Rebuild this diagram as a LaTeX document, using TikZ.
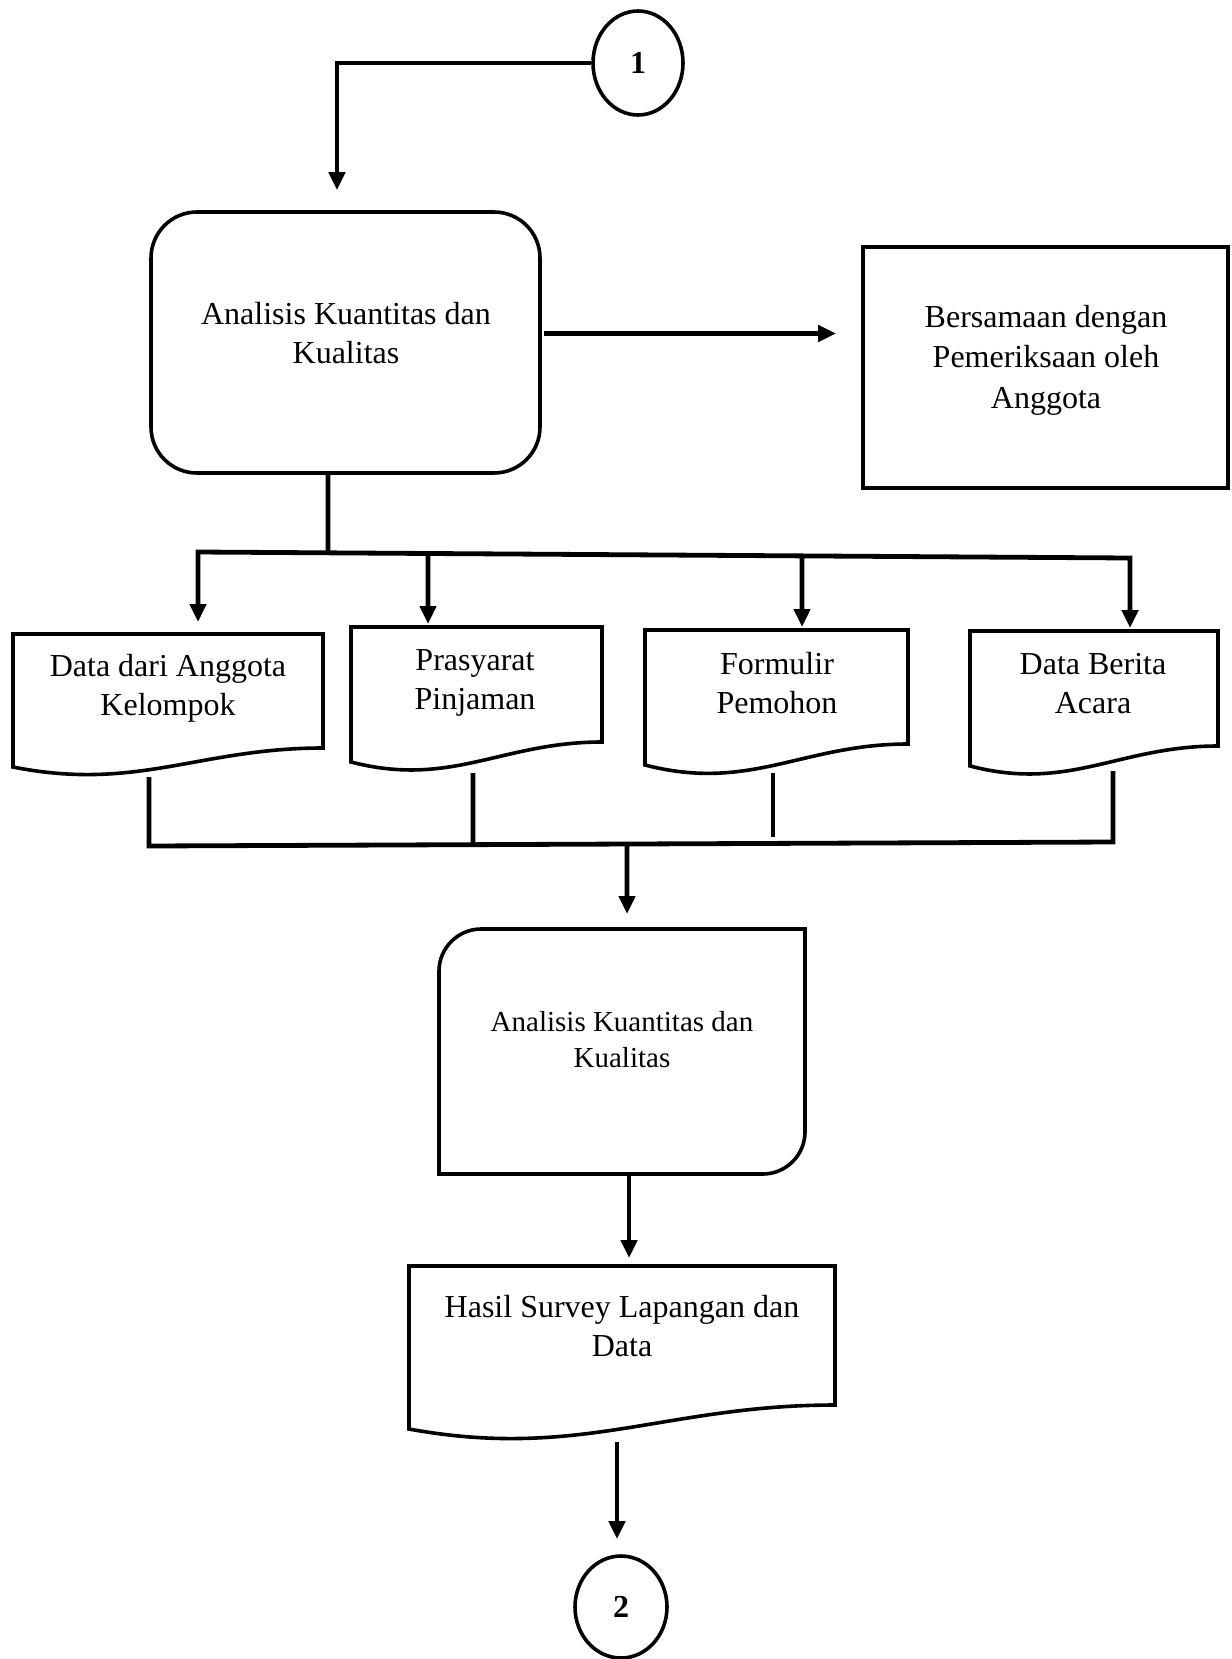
\documentclass[tikz,border=0pt]{standalone}
\usepackage{fontspec}
\setmainfont{Liberation Serif}
\usetikzlibrary{arrows.meta,shapes.geometric,calc}
\newcommand\docshp[6]{% name, xl, xr, ytop, yright, yleft
  \draw[box] (#2,#4) -- (#3,#4) -- (#3,#5) .. controls ({#3-0.4*(#3-#2)},#5) and ({#2+0.4*(#3-#2)},{#6+1.3*(#6-#5)}) .. (#2,#6) -- cycle;
  \coordinate (#1-n) at ({(#2+#3)/2},#4);
}
\begin{document}
\begin{tikzpicture}[x=0.5pt,y=-0.5pt,
  box/.style={line width=1.8pt, line join=miter},
  conn/.style={line width=2.4pt},
  tip/.tip={Triangle[width=8pt,length=9pt]},
  arr/.style={conn,-tip},
  txt/.style={align=center, font=\fontsize{16}{19.5}\selectfont},
  ghost/.style={inner sep=0pt, outer sep=0pt},
  conncirc/.style={ellipse, draw, box, inner sep=0pt, font=\bfseries\fontsize{16}{19}\selectfont},
  ]
\useasboundingbox (0,0) rectangle (1231,1659);

% connector circles
\node[conncirc, minimum width=45pt, minimum height=52pt] (c1) at (638,63) {1};
\node[conncirc, minimum width=46pt, minimum height=51pt] (c2) at (621,1607) {2};

% top process box
\node[draw, box, rounded corners=23pt, minimum width=194.5pt, minimum height=130.5pt] (b1) at (345.5,342.5) {};
\node[txt] (b1t) at (346,333) {Analisis Kuantitas dan\\Kualitas};

% right box
\node[draw, box, minimum width=182.5pt, minimum height=120.5pt] (b2) at (1045.5,367.5) {};
\node[txt, font=\fontsize{16}{20.3}\selectfont] (b2t) at (1046,360) {Bersamaan dengan\\Pemeriksaan oleh\\Anggota};

% documents
\docshp{d1}{13}{323}{634}{748}{767}
\docshp{d2}{351}{602}{627}{742}{762}
\docshp{d3}{645}{908}{630}{744}{765}
\docshp{d4}{970}{1218}{631}{746}{766}
\node[txt] (d1t) at (168,688) {Data dari Anggota\\Kelompok};
\node[txt] (d2t) at (475,683) {Prasyarat\\Pinjaman};
\node[txt] (d3t) at (777,683) {Formulir\\Pemohon};
\node[txt] (d4t) at (1093,684) {Data Berita\\Acara};

% middle box (rounded top-left and bottom-right)
\node[ghost, minimum width=183pt, minimum height=122.5pt] (b3) at (622,1051.5) {};
\draw[box] (b3.south west) -- ($(b3.north west)+(0,42)$) .. controls +(0,-23) and +(-23,0) .. ($(b3.north west)+(42,0)$)
  -- (b3.north east) -- ($(b3.south east)+(0,-42)$) .. controls +(0,23) and +(23,0) .. ($(b3.south east)+(-42,0)$) -- cycle;
\node[txt, font=\fontsize{14.5}{18}\selectfont] (b3t) at (622,1040) {Analisis Kuantitas dan\\Kualitas};

% bottom document
\docshp{d5}{409}{835}{1266}{1405}{1429}
\node[txt] (d5t) at (622,1326) {Hasil Survey Lapangan dan\\Data};

% connectors
\draw[arr] (c1.west) -| ($(b1.north)+(-8.5,-20)$);
\draw[arr] ($(b1.east)+(2,-9)$) -- ($(b2.west |- b1.east)+(-25,-9)$);

\coordinate (bL) at (198,552);
\coordinate (bR) at (1130,558);
\draw[conn] ($(b1.south)+(-17.5,0)$) -- ($(bL)!{(328-198)/932}!(bR)$);
\draw[conn, tip-tip] ($(d1-n)+(30,-12)$) -- (bL) -- (bR) -- ($(d4-n)+(36,-3)$);
\draw[arr] ($(bL)!{(428-198)/932}!(bR)$) -- ($(d2-n)+(-48.5,-3)$);
\draw[arr] ($(bL)!{(802-198)/932}!(bR)$) -- ($(d3-n)+(25.5,-3)$);

\coordinate (cL) at (149,846);
\coordinate (cR) at (1113,842);
\draw[conn] ($(d1-n)+(-19,143)$) -- (cL) -- (cR) -- ($(d4-n)+(19,140)$);
\draw[conn] ($(d2-n)+(-3.5,146)$) -- ($(cL)!{(473-149)/964}!(cR)$);
\draw[conn] ($(d3-n)+(-3.5,143)$) -- ++(0,64);
\draw[arr] ($(cL)!{(627-149)/964}!(cR)$) -- ($(b3.north)+(5,-15)$);

\draw[arr] ($(b3.south)+(7,0)$) -- ($(d5-n)+(7,-8)$);
\draw[arr] ($(d5-n)+(-5,176)$) -- ($(c2.north)+(-4,-15)$);
\end{tikzpicture}
\end{document}
